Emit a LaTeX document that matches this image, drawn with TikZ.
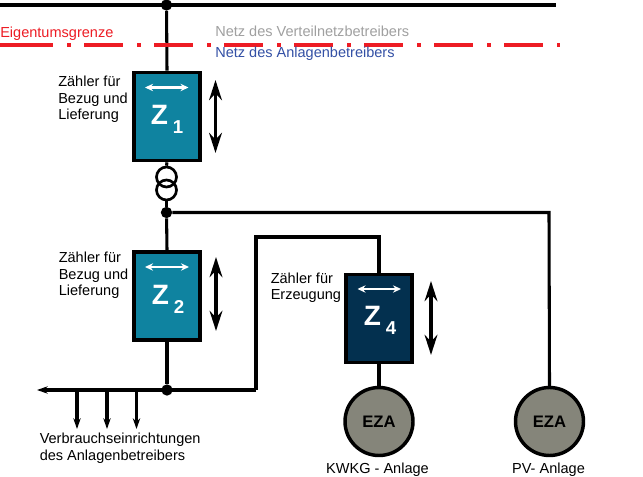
\documentclass[tikz,border=0pt]{standalone}
\usepackage{fontspec}
\setmainfont{Liberation Sans}
\usetikzlibrary{arrows.meta}
\definecolor{zteal}{HTML}{0F83A0}
\definecolor{znavy}{HTML}{03304F}
\definecolor{ezagray}{HTML}{85857A}
\definecolor{ered}{HTML}{ED1C24}
\definecolor{eblue}{HTML}{3350A5}
\definecolor{egray}{HTML}{A0A0A0}
\tikzset{
  wire/.style={draw=black,line width=2.3pt},
  meter/.style={draw=black,line width=2.8pt,minimum width=50pt,minimum height=66pt,inner sep=0pt},
  eza/.style={circle,draw=black,line width=2.6pt,fill=ezagray,minimum size=51pt,inner sep=0pt,font=\fontsize{12.5}{13}\selectfont\bfseries},
  junction/.style={circle,fill=black,minimum size=8.5pt,inner sep=0pt},
  coil/.style={circle,draw=black,line width=2pt,minimum size=15pt,inner sep=0pt},
  lab/.style={anchor=base west,inner sep=0pt,font=\fontsize{10.9}{12.7}\selectfont,align=left},
  labc/.style={anchor=base,inner sep=0pt,font=\fontsize{10.9}{12.7}\selectfont},
  zt/.style={anchor=base west,inner sep=0pt,text=white,font=\fontsize{21}{22}\selectfont\bfseries},
  bigarrow/.style={line width=2.8pt,{Stealth[length=15pt,width=9.5pt]}-{Stealth[length=15pt,width=9.5pt]}},
  smallarrow/.style={white,line width=2.2pt,{Stealth[length=6pt,width=5.5pt]}-{Stealth[length=6pt,width=5.5pt]}},
  load/.style={line width=2.3pt,-{Stealth[length=8pt,width=5.5pt]}},
  boundary/.style={ered,line width=3pt,dash pattern=on 29.25pt off 10.5pt on 3pt off 9.75pt},
}
\newcommand{\zsub}[1]{Z\hspace{3.8pt}\raisebox{-6.5pt}{\fontsize{14}{14}\selectfont #1}}
\begin{document}
\begin{tikzpicture}[x=0.75pt,y=-0.75pt]
\useasboundingbox (0,0) rectangle (643,477);
\fill[white] (0,0) rectangle (643,477);
% named points
\coordinate (topL) at (0,5);
\coordinate (topR) at (556,5);
\coordinate (bnd0) at (0,45.5);
\coordinate (bndL) at (14,45.5);
\coordinate (bndR) at (560,45.5);
\node[junction] (jtop) at (166.5,5) {};
\node[junction] (jmid) at (166.5,212.5) {};
\node[junction] (jbot) at (167,390) {};
\coordinate (pvcorner) at (549,212.5);
\coordinate (busL) at (37,390);
\coordinate (bus1) at (256,390);
\coordinate (bus2) at (256,237);
\coordinate (bus3) at (379,237);
% meters
\node[meter,fill=zteal] (z1) at (167,116.5) {};
\node[meter,fill=zteal] (z2) at (167,296) {};
\node[meter,fill=znavy] (z4) at (379,318.5) {};
\node[coil] (c1) at (166.5,177) {};
\node[coil] (c2) at (166.5,190) {};
\node[eza] (e1) at (379,421.5) {EZA};
\node[eza] (e2) at (549.5,421.5) {EZA};
% wires
\draw[wire] (topL) -- (topR);
\draw[wire] (jtop) -- (z1.north);
\draw[wire] (z1.south) -- (c1.north);
\draw[wire] (c2.south) -- (jmid);
\draw[wire] (jmid) -- (z2.north);
\draw[wire] (z2.south) -- (jbot);
\draw[wire] (jmid) -- (pvcorner) -- (e2.north);
\draw[wire,-{Stealth[length=8pt,width=5.5pt]}] (bus1) -- (busL);
\draw[wire,line join=miter] (bus1) -- (bus2) -- (bus3) -- (z4.north);
\draw[wire] (z4.south) -- (e1.north);
% consumer arrows
\coordinate (l1a) at (77,390); \coordinate (l1b) at (77,429);
\coordinate (l2a) at (107,390); \coordinate (l2b) at (107,429);
\coordinate (l3a) at (136.5,390); \coordinate (l3b) at (136.5,429);
\draw[load] (l1a) -- (l1b);
\draw[load] (l2a) -- (l2b);
\draw[load] (l3a) -- (l3b);
% boundary
\draw[ered,line width=3pt] (bnd0) -- (bndL);
\draw[boundary] (bndL) -- (bndR);
% direction arrows
\coordinate (a1a) at (215.5,80); \coordinate (a1b) at (215.5,153);
\coordinate (a2a) at (216,257); \coordinate (a2b) at (216,331);
\coordinate (a4a) at (431,281); \coordinate (a4b) at (431,355);
\draw[bigarrow] (a1a) -- (a1b);
\draw[bigarrow] (a2a) -- (a2b);
\draw[bigarrow] (a4a) -- (a4b);
\coordinate (s1a) at (145,87.5); \coordinate (s1b) at (188.5,87.5);
\coordinate (s2a) at (145,267); \coordinate (s2b) at (189,267);
\coordinate (s4a) at (357.5,289); \coordinate (s4b) at (401,289);
\draw[smallarrow] (s1a) -- (s1b);
\draw[smallarrow] (s2a) -- (s2b);
\draw[smallarrow] (s4a) -- (s4b);
% meter labels
\node[zt] (zt1) at (150.5,124.5) {\zsub{1}};
\node[zt] (zt2) at (151.5,304.5) {\zsub{2}};
\node[zt] (zt4) at (363.5,326) {\zsub{4}};
% texts
\node[lab,text=ered] (tb) at (0,37.5) {Eigentumsgrenze};
\node[lab,text=egray] (tn) at (215,36.5) {Netz des Verteilnetzbetreibers};
\node[lab,text=eblue] (ta) at (215,58) {Netz des Anlagenbetreibers};
\node[lab] (t1) at (58,120) {Zähler für\\Bezug und\\Lieferung};
\node[lab] (t2) at (58.5,296) {Zähler für\\Bezug und\\Lieferung};
\node[lab] (t4) at (270.5,300) {Zähler für\\Erzeugung};
\node[lab] (t5) at (39.5,460) {Verbrauchseinrichtungen\\des Anlagenbetreibers};
\node[labc] (t6) at (377.5,474) {KWKG - Anlage};
\node[labc] (t7) at (548.5,474) {PV- Anlage};
\end{tikzpicture}
\end{document}
